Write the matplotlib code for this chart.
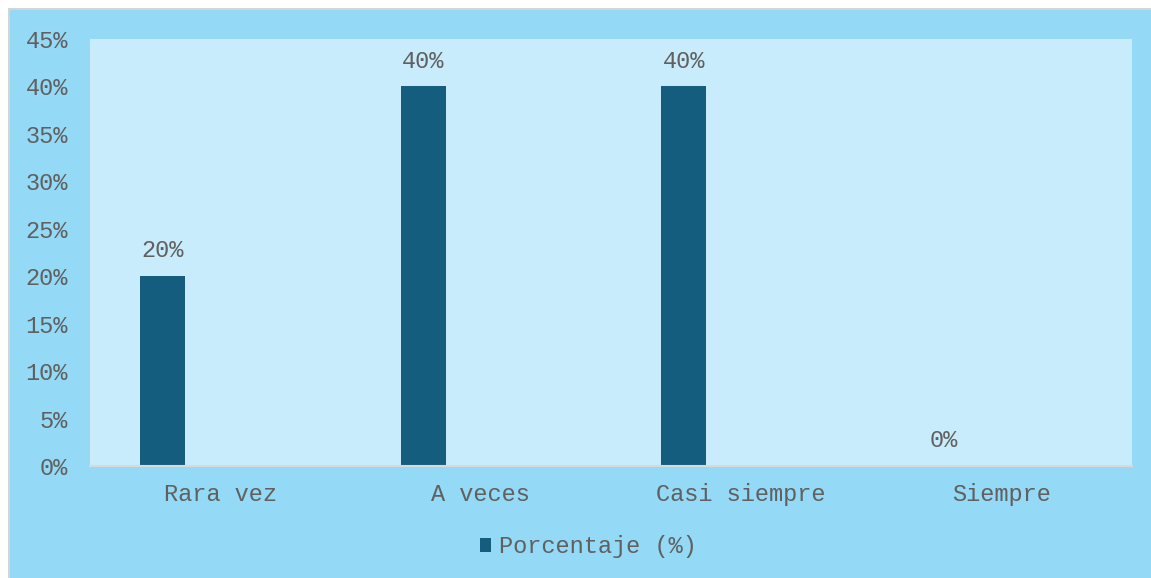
import matplotlib
matplotlib.use('Agg')
from matplotlib import pyplot as plt
from matplotlib.patches import Rectangle
from matplotlib.ticker import FuncFormatter, MultipleLocator

# Survey answers and their share
categories = ['Rara vez', 'A veces', 'Casi siempre', 'Siempre']
percentages = [0.20, 0.40, 0.40, 0.0]
series_name = 'Porcentaje (%)'

outer_blue = '#94D9F6'
inner_blue = '#C8ECFB'
bar_color = '#145D7F'
text_gray = '#606060'
fsize = 17

plt.rcParams['font.family'] = ['Liberation Mono', 'DejaVu Sans Mono']

W, H = 1151, 578
fig = plt.figure(figsize=(W / 100, H / 100), dpi=100, facecolor='white')

# Chart frame with thin gray border
fig.patches.append(Rectangle((9 / W, -0.01), 1.02, 1 - 9 / H + 0.01,
                             transform=fig.transFigure, facecolor=outer_blue,
                             edgecolor='#d4d4d4', linewidth=1.5, zorder=-5))

ax = fig.add_axes([90 / W, (H - 466) / H, (1132 - 90) / W, (466 - 39) / H])
ax.set_facecolor(inner_blue)

x = list(range(len(categories)))
bar_x = [i - 0.221 for i in x]
bars = ax.bar(bar_x, percentages, width=0.173, color=bar_color,
              label=series_name, zorder=2)

# Value labels above each bar
for bx, val in zip(bar_x, percentages):
    ax.annotate(f'{val * 100:.0f}%', (bx, val), xytext=(0, 10),
                textcoords='offset points', ha='center', va='bottom',
                fontsize=fsize, color=text_gray)

ax.set_xlim(-0.5, len(categories) - 0.5)
ax.set_ylim(0, 0.45)
ax.yaxis.set_major_locator(MultipleLocator(0.05))
ax.yaxis.set_major_formatter(FuncFormatter(lambda v, p: f'{v * 100:.0f}%'))
ax.set_xticks(x)
ax.set_xticklabels(categories)
ax.tick_params(axis='both', length=0, colors=text_gray, labelsize=fsize)
ax.tick_params(axis='y', pad=16)
ax.tick_params(axis='x', pad=12)

for side in ['top', 'right', 'left']:
    ax.spines[side].set_visible(False)
ax.spines['bottom'].set_color('#d9d9d9')
ax.spines['bottom'].set_linewidth(1.5)

leg = fig.legend(handles=[bars], labels=[series_name], loc='center',
                 bbox_to_anchor=(588 / W, 1 - 547 / H), frameon=False,
                 fontsize=fsize, handlelength=0.5, handleheight=0.5,
                 handletextpad=0.3, labelcolor=text_gray)

fig.savefig('out.png', dpi=100, facecolor=fig.get_facecolor())
